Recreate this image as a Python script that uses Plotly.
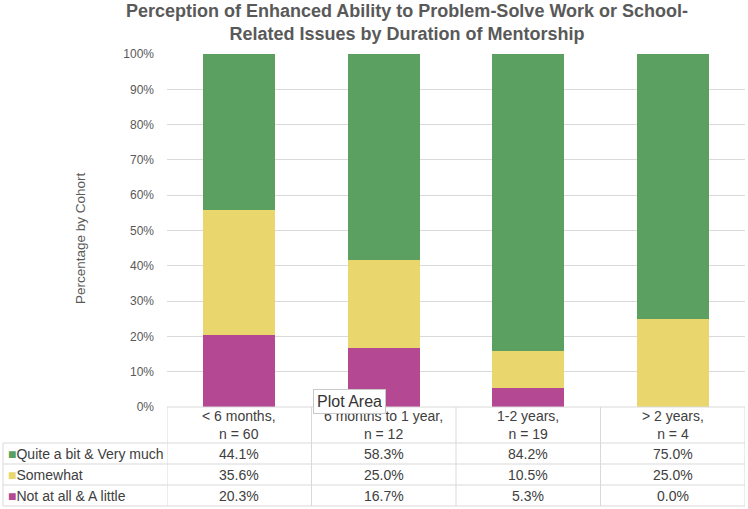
import plotly.graph_objects as go

categories = ["&lt; 6 months,<br>n = 60", "6 months to 1 year,<br>n = 12",
              "1-2 years,<br>n = 19", "> 2 years,<br>n = 4"]
series_names = ["Quite a bit & Very much", "Somewhat", "Not at all & A little"]
quite_a_bit = [44.1, 58.3, 84.2, 75.0]
somewhat = [35.6, 25.0, 10.5, 25.0]
not_at_all = [20.3, 16.7, 5.3, 0.0]
y_ticks = [0, 10, 20, 30, 40, 50, 60, 70, 80, 90, 100]
y_tick_labels = [f"{v}%" for v in y_ticks]

colors = {"Quite a bit & Very much": "#5BA061",
          "Somewhat": "#E9D76D",
          "Not at all & A little": "#B44892"}

W, H = 748, 509
L, R, T, B = 167, 3, 54, 102
plot_h = H - T - B
plot_w = W - L - R

def py(pix):
    return (H - B - pix) / plot_h

def px(pix):
    return (pix - L) / plot_w

x_idx = list(range(len(categories)))
fig = go.Figure()
for name, vals in [("Not at all & A little", not_at_all),
                   ("Somewhat", somewhat),
                   ("Quite a bit & Very much", quite_a_bit)]:
    fig.add_trace(go.Bar(x=x_idx, y=vals, name=name, width=0.5,
                         marker=dict(color=colors[name], line=dict(width=0)),
                         showlegend=False, hoverinfo="skip"))

grid = "#D9D9D9"
txt = "#404040"
font_tbl = dict(family="Liberation Sans, Arial, sans-serif", size=14, color=txt)

shapes = []
annotations = []

header_top, header_bot = H - B, H - B + 36
row_edges = [header_bot, header_bot + 21, header_bot + 42, header_bot + 63]
left_px = 3

shapes.append(dict(type="line", xref="x", yref="paper", x0=-0.5, x1=len(categories) - 0.5,
                   y0=py(header_top), y1=py(header_top), line=dict(color=grid, width=1)))
for e in row_edges:
    shapes.append(dict(type="line", xref="paper", yref="paper", x0=px(left_px), x1=1,
                       y0=py(e), y1=py(e), line=dict(color=grid, width=1)))
for i in range(len(categories) + 1):
    shapes.append(dict(type="line", xref="x", yref="paper", x0=i - 0.5, x1=i - 0.5,
                       y0=py(header_top), y1=py(row_edges[-1]), line=dict(color=grid, width=1)))
shapes.append(dict(type="line", xref="paper", yref="paper", x0=px(left_px), x1=px(left_px),
                   y0=py(row_edges[0]), y1=py(row_edges[-1]), line=dict(color=grid, width=1)))

for i, c in enumerate(categories):
    annotations.append(dict(x=i, y=py((header_top + header_bot) / 2), xref="x", yref="paper",
                            text=c, showarrow=False, font=font_tbl, align="center",
                            xanchor="center", yanchor="middle"))
for r, (name, vals) in enumerate([("Quite a bit & Very much", quite_a_bit),
                                  ("Somewhat", somewhat),
                                  ("Not at all & A little", not_at_all)]):
    yc = py((row_edges[r] + row_edges[r + 1]) / 2)
    annotations.append(dict(x=px(left_px + 3), y=yc, xref="paper", yref="paper",
                            text=f"<span style='color:{colors[name]}'>■</span>{name}",
                            showarrow=False, font=font_tbl, xanchor="left", yanchor="middle"))
    for i, v in enumerate(vals):
        annotations.append(dict(x=i, y=yc, xref="x", yref="paper", text=f"{v:.1f}%",
                                showarrow=False, font=font_tbl, xanchor="center", yanchor="middle"))

annotations.append(dict(x=px(80), y=py(238), xref="paper", yref="paper", text="Percentage by Cohort",
                        textangle=-90, showarrow=False,
                        font=dict(family="Liberation Sans, Arial, sans-serif", size=13.5, color="#595959"),
                        xanchor="center", yanchor="middle"))

# chart title
annotations.append(dict(x=px(407), y=py(-1), xref="paper", yref="paper",
                        text="Perception of Enhanced Ability to Problem-Solve Work or School-<br>Related Issues by Duration of Mentorship",
                        showarrow=False, xanchor="center", yanchor="top", align="center",
                        font=dict(family="Liberation Sans, Arial, sans-serif",
                                  size=18, color="#595959", weight="bold")))

# "Plot Area" tooltip seen in the reference
annotations.append(dict(x=px(313), y=py(389), xref="paper", yref="paper", text="Plot Area",
                        showarrow=False, xanchor="left", yanchor="top",
                        font=dict(family="Liberation Sans, Arial, sans-serif", size=16, color="#333333"),
                        bgcolor="white", bordercolor="#C8C8C8", borderwidth=1, borderpad=3))

fig.update_layout(
    width=W, height=H,
    margin=dict(l=L, r=R, t=T, b=B),
    paper_bgcolor="white", plot_bgcolor="white",
    barmode="stack",
    xaxis=dict(range=[-0.5, len(categories) - 0.5], showticklabels=False, showgrid=False,
               zeroline=False, showline=False, ticks=""),
    yaxis=dict(range=[0, 100], tickvals=y_ticks, ticktext=y_tick_labels, showgrid=True,
               gridcolor=grid, gridwidth=1, zeroline=False, showline=False, ticks="",
               ticklabelstandoff=12,
               tickfont=dict(family="Liberation Sans, Arial, sans-serif", size=12, color="#595959")),
    shapes=shapes, annotations=annotations,
)

fig.write_html("out.html", config={"displayModeBar": False},
               post_script="document.body.style.margin='0';document.body.style.overflow='hidden';")
